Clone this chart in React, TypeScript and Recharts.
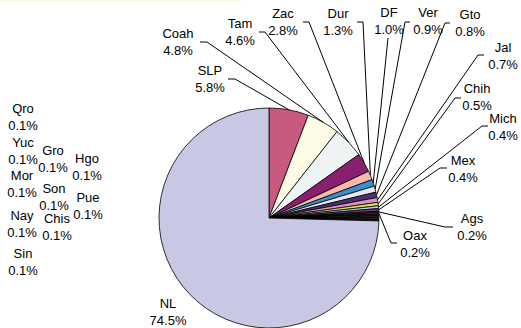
import { PieChart, Pie, Cell } from "recharts";

const states = [
  "SLP", "Coah", "Tam", "Zac", "Dur", "DF", "Ver", "Gto", "Jal", "Chih",
  "Mich", "Mex", "Ags", "Oax",
  "Qro", "Yuc", "Gro", "Hgo", "Mor", "Son", "Pue", "Nay", "Chis", "Sin",
  "NL",
];
const shares = [
  5.8, 4.8, 4.6, 2.8, 1.3, 1.0, 0.9, 0.8, 0.7, 0.5,
  0.4, 0.4, 0.2, 0.2,
  0.1, 0.1, 0.1, 0.1, 0.1, 0.1, 0.1, 0.1, 0.1, 0.1,
  74.5,
];
const colors = [
  "#c85a80", "#fdfae6", "#eef4f4", "#8b1f6f", "#f8b8a8", "#3a8fd0", "#e6e6f0",
  "#4a3078", "#e090c0", "#e0e060", "#a0e0e0", "#803080", "#802020", "#208080",
  "#2040e0", "#40c0e0", "#c0e0c0", "#f0f0a0", "#a0c0f0", "#f0a0c0", "#c0a0f0",
  "#f0c0a0", "#3060f0", "#40c0c0", "#c8c8e4",
];

// label layout: text centre x, baseline of first line, leader [textSideX, y, elbowX] or null
const labelSpots: { x: number; y: number; lead: number[] | null }[] = [
  { x: 210, y: 75, lead: [228, 79, 235] },
  { x: 178, y: 38, lead: [200, 42, 207] },
  { x: 240, y: 28, lead: [259, 32, 265] },
  { x: 283, y: 18, lead: [303, 22, 309] },
  { x: 338, y: 18, lead: [357, 22, 363] },
  { x: 389, y: 17, lead: [388, 38, 388] },
  { x: 428, y: 17, lead: [410, 22, 405] },
  { x: 470, y: 19, lead: [450, 23, 445] },
  { x: 503, y: 52, lead: [484, 55, 478] },
  { x: 477, y: 93, lead: [461, 98, 455] },
  { x: 503, y: 123, lead: [488, 126, 482] },
  { x: 463, y: 165, lead: [447, 168, 440] },
  { x: 472, y: 223, lead: [453, 227, 445] },
  { x: 415, y: 240, lead: [397, 243, 391] },
  { x: 23, y: 113, lead: null },
  { x: 23, y: 147, lead: null },
  { x: 53, y: 155, lead: null },
  { x: 87, y: 163, lead: null },
  { x: 22, y: 180, lead: null },
  { x: 54, y: 193, lead: null },
  { x: 88, y: 202, lead: null },
  { x: 22, y: 220, lead: null },
  { x: 57, y: 223, lead: null },
  { x: 23, y: 258, lead: null },
  { x: 168, y: 308, lead: null },
];

const data = states.map((s, i) => ({ name: s, value: shares[i] }));

const RADIAN = Math.PI / 180;

function renderLabel(props: any) {
  const { cx, cy, midAngle, outerRadius, index } = props;
  const spot = labelSpots[index];
  const ex = cx + outerRadius * Math.cos(-midAngle * RADIAN);
  const ey = cy + outerRadius * Math.sin(-midAngle * RADIAN);
  return (
    <g key={`lbl-${index}`}>
      {spot.lead && (
        <polyline
          points={`${spot.lead[0]},${spot.lead[1]} ${spot.lead[2]},${spot.lead[1]} ${ex},${ey}`}
          fill="none"
          stroke="#000"
          strokeWidth={1}
        />
      )}
      <text
        x={spot.x}
        y={spot.y}
        textAnchor="middle"
        fontSize={13}
        fontFamily="Arial, 'Liberation Sans', sans-serif"
        fill="#000"
      >
        {states[index]}
      </text>
      <text
        x={spot.x}
        y={spot.y + 16.5}
        textAnchor="middle"
        fontSize={13}
        fontFamily="Arial, 'Liberation Sans', sans-serif"
        fill="#000"
      >
        {shares[index].toFixed(1)}%
      </text>
    </g>
  );
}

export default function App() {
  return (
    <div style={{ position: "absolute", left: 0, top: 0, width: 521, height: 328, background: "#fff" }}>
      <div style={{ position: "absolute", left: 0, top: 0, width: 241, height: 2, background: "#fff8e0" }} />
      <PieChart width={521} height={328}>
        <Pie
          data={data}
          dataKey="value"
          nameKey="name"
          cx={264}
          cy={213}
          outerRadius={110}
          startAngle={90}
          endAngle={-270}
          stroke="#000"
          strokeWidth={0.8}
          label={renderLabel}
          labelLine={false}
          isAnimationActive={false}
        >
          {data.map((d, i) => (
            <Cell key={`cell-${i}`} fill={colors[i]} />
          ))}
        </Pie>
      </PieChart>
    </div>
  );
}
